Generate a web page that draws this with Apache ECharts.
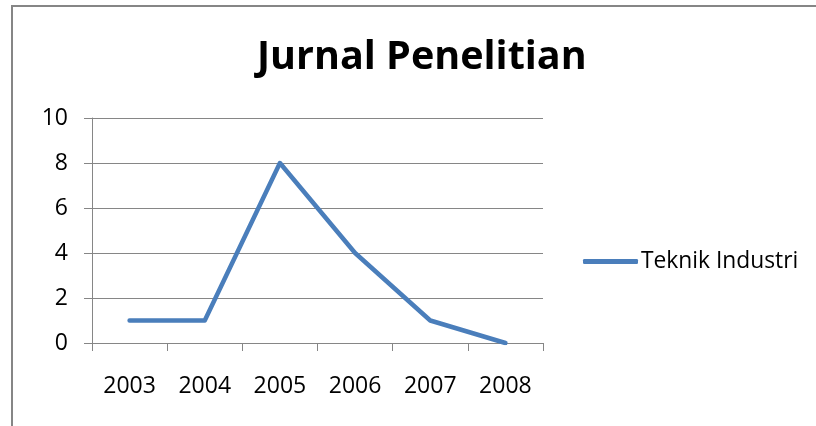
<!DOCTYPE html>
<html><head><meta charset="utf-8">
<script src="https://cdn.jsdelivr.net/npm/echarts@6/dist/echarts.min.js"></script>
<style>html,body{margin:0;padding:0;background:#fff}#c{width:816px;height:426px}</style>
</head><body><div id="c"></div>
<script>
var categories = ['2003','2004','2005','2006','2007','2008'];
var values = [1, 1, 8, 4, 1, 0];
var seriesName = 'Teknik Industri';
var titleText = 'Jurnal Penelitian';
var yTicks = {min: 0, max: 10, interval: 2};

var chart = echarts.init(document.getElementById('c'));
var font = '"Open Sans", "Liberation Sans", sans-serif';
chart.setOption({
  animation: false,
  backgroundColor: '#fff',
  title: {text: titleText, left: 252, top: 33,
    textStyle: {fontFamily: font, fontSize: 39.5, fontWeight: 'bold', color: '#000'}},
  graphic: [
    {type: 'line', shape: {x1: 12, y1: 6, x2: 12, y2: 426}, style: {stroke: '#868686', lineWidth: 2}},
    {type: 'line', shape: {x1: 11, y1: 6, x2: 816, y2: 6}, style: {stroke: '#868686', lineWidth: 2}}
  ],
  legend: {left: 578, top: 245, itemWidth: 55, itemHeight: 5, itemGap: 4,
    data: [{name: seriesName, icon: 'roundRect'}],
    textStyle: {fontFamily: font, fontSize: 22.8, color: '#000', padding: [0,0,0,-2]}},
  grid: {left: 92, right: 273, top: 118, bottom: 83, containLabel: false},
  xAxis: {type: 'category', data: categories, boundaryGap: true,
    axisLine: {lineStyle: {color: '#868686', width: 1}},
    axisTick: {show: true, length: 8, inside: false, lineStyle: {color: '#868686'}},
    axisLabel: {margin: 32, fontFamily: font, fontSize: 23, color: '#000'}},
  yAxis: {type: 'value', min: yTicks.min, max: yTicks.max, interval: yTicks.interval,
    axisLine: {show: true, lineStyle: {color: '#868686', width: 1}},
    axisTick: {show: true, length: 8, lineStyle: {color: '#868686'}},
    splitLine: {show: true, lineStyle: {color: '#868686', width: 1}},
    axisLabel: {margin: 24, fontFamily: font, fontSize: 23, color: '#000'}},
  series: [{name: seriesName, type: 'line', data: values, symbol: 'none',
    lineStyle: {color: '#4a7ebb', width: 4.5, cap: 'round', join: 'round'},
    itemStyle: {color: '#4a7ebb'}}]
});
</script></body></html>
